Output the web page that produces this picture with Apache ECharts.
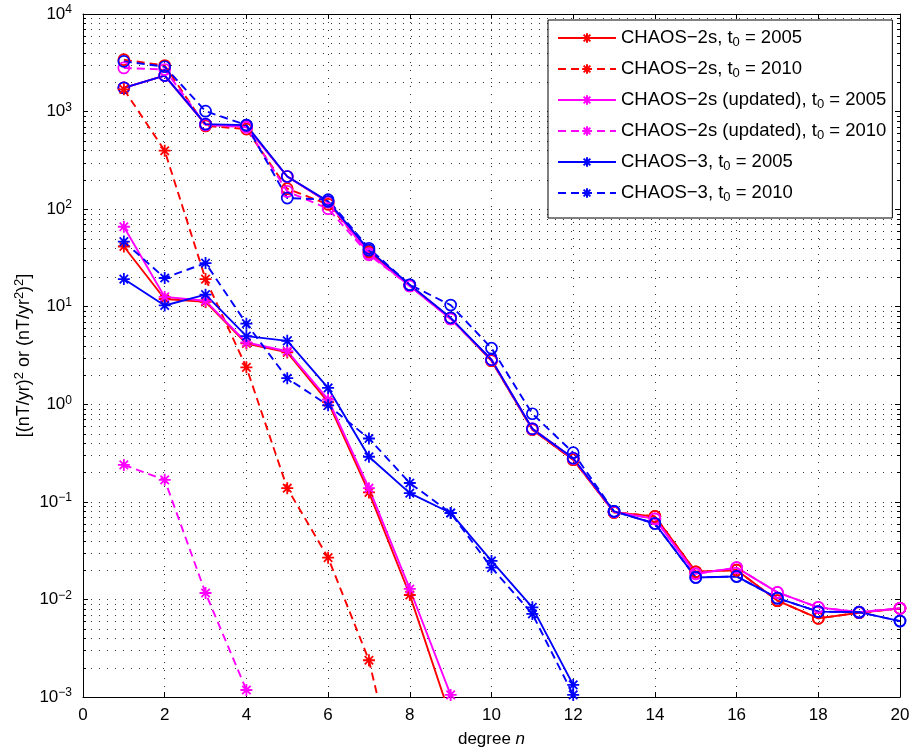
<!DOCTYPE html>
<html><head><meta charset="utf-8">
<script src="https://cdn.jsdelivr.net/npm/echarts@6/dist/echarts.min.js"></script>
<style>html,body{margin:0;padding:0;background:#fff}#c{width:913px;height:753px}</style>
</head><body><div id="c"></div><script>
const degrees = [1,2,3,4,5,6,7,8,9,10,11,12,13,14,15,16,17,18,19,20];
const legendNames = ['CHAOS-2s, t0 = 2005','CHAOS-2s, t0 = 2010','CHAOS-2s (updated), t0 = 2005','CHAOS-2s (updated), t0 = 2010','CHAOS-3, t0 = 2005','CHAOS-3, t0 = 2010'];
// secular acceleration (asterisk markers)
const saRed2005  = [41.4, 12.0, 11.2, 4.2, 3.4, 1.05, 0.125, 0.0111, 0.00062];
const saRed2010  = [1690, 397, 19.2, 2.39, 0.138, 0.0268, 0.00238, 0.00004];
const saPink2005 = [66, 12.6, 11.5, 4.3, 3.5, 1.12, 0.138, 0.0128, 0.00105];
const saPink2010 = [0.239, 0.168, 0.01164, 0.00118];
const saBlue2005 = [19.2, 10.3, 13.3, 5.0, 4.47, 1.47, 0.29, 0.123, 0.0769, 0.0248, 0.0083, 0.00133];
const saBlue2010 = [46.5, 19.7, 28.0, 6.7, 1.85, 0.975, 0.446, 0.156, 0.0769, 0.0212, 0.0071, 0.00105];
// secular variation (circle markers)
const svRed2005  = [1750, 2340, 740, 700, 216, 118, 37, 16.5, 7.6, 2.8, 0.55, 0.27, 0.078, 0.071, 0.0192, 0.0200, 0.0097, 0.0064, 0.0073, 0.0081];
const svRed2010  = [3400, 2960, 713, 661, 162, 112, 36, 16.5, 7.6, 2.8, 0.55, 0.27, 0.078, 0.071, 0.0192, 0.0200, 0.0097, 0.0064, 0.0073, 0.0081];
const svPink2005 = [1750, 2340, 740, 700, 216, 118, 35, 16.3, 7.5, 2.86, 0.56, 0.279, 0.079, 0.067, 0.0183, 0.0212, 0.0118, 0.0083, 0.0074, 0.0081];
const svPink2010 = [2800, 2700, 730, 690, 152, 101, 34, 16.3, 7.5, 2.86, 0.56, 0.279, 0.079, 0.067, 0.0183, 0.0212, 0.0118, 0.0083, 0.0074, 0.0081];
const svBlue2005 = [1750, 2340, 743, 726, 216, 120, 38, 16.8, 7.7, 2.86, 0.56, 0.28, 0.080, 0.060, 0.0168, 0.0172, 0.0103, 0.0075, 0.0074, 0.0060];
const svBlue2010 = [3270, 2880, 1010, 726, 130, 125, 39.7, 16.8, 10.4, 3.76, 0.80, 0.319, 0.080, 0.060, 0.0168, 0.0172, 0.0103, 0.0075, 0.0074, 0.0060];
// minor log grid positions (mantissas within each decade)
const minorMantissas = [2,3,4,5,6,7,8,9];
const decadeExponents = [-3,-2,-1,0,1,2,3];

const RED = '#ff0000', PINK = '#ff00ff', BLUE = '#0000ff';
const FONT = '"Liberation Sans", Arial, Helvetica, sans-serif';
const STAR = 'path://M5,0L5,10M0,5L10,5M1.5,1.5L8.5,8.5M1.5,8.5L8.5,1.5';
const DASH = [8, 5];
const GRIDCOL = '#333', GRIDDASH = [1, 7];

function pts(arr){ return arr.map((v,i)=>[degrees[i], v]); }
function sa(name, arr, color, dashed){
  return {name, type:'line', data: pts(arr), symbol: STAR, symbolSize: 12, clip: true,
    lineStyle:{color, width:1.9, type: dashed ? DASH : 'solid'},
    itemStyle:{color, borderColor: color, borderWidth: 1.8}, emphasis:{disabled:true}, z: 3};
}
function sv(name, arr, color, dashed){
  return {name, type:'line', data: pts(arr), symbol: 'circle', symbolSize: 11, clip: true,
    lineStyle:{color, width:1.9, type: dashed ? DASH : 'solid'},
    itemStyle:{color: 'rgba(0,0,0,0)', borderColor: color, borderWidth: 1.7}, emphasis:{disabled:true}, z: 3};
}
const minorVals = [];
decadeExponents.forEach(e => minorMantissas.forEach(m => minorVals.push([0, +(m * Math.pow(10, e)).toPrecision(3)])));

const supExp = v => { const e = Math.round(Math.log10(v)); return '{b|10}{s|' + String(e).replace('-', '\u2212') + '}'; };
const gridLine = {show:true, lineStyle:{color: GRIDCOL, width:1, type: GRIDDASH}};

const chart = echarts.init(document.getElementById('c'), null, {renderer:'canvas'});
chart.setOption({
  animation: false,
  backgroundColor: '#fff',
  grid: {left: 83, right: 13, top: 14, bottom: 50, containLabel: false},
  legend: {
    data: legendNames, orient: 'vertical', left: 548, top: 20,
    backgroundColor: '#fff', borderColor: '#000', borderWidth: 1,
    padding: [7, 6, 14, 9], itemWidth: 58, itemHeight: 12, itemGap: 9,
    selectedMode: false,
    formatter: n => n.replace('t0', 't{sub|0}').replace('-', '\u2212'),
    textStyle: {fontFamily: FONT, fontSize: 18.5, color: '#000', lineHeight: 22,
      rich: {sub: {fontFamily: FONT, fontSize: 13, lineHeight: 4, verticalAlign: 'bottom'}}}
  },
  xAxis: [{
    type: 'value', min: 0, max: 20, interval: 2,
    name: 'degree {i|n}', nameLocation: 'middle', nameGap: 34,
    nameTextStyle: {fontFamily: FONT, fontSize: 17, color: '#000', rich: {i: {fontFamily: FONT, fontSize: 17, fontStyle: 'italic'}}},
    axisLine: {show: true, onZero: false, lineStyle: {color: '#000', width: 1}},
    axisTick: {show: true, inside: true, length: 5, lineStyle: {color: '#000'}},
    axisLabel: {fontFamily: FONT, fontSize: 17, color: '#000', margin: 10},
    splitLine: gridLine
  }, {
    type: 'value', min: 0, max: 20, interval: 2, position: 'top',
    axisLine: {show: true, onZero: false, lineStyle: {color: '#000', width: 1}},
    axisTick: {show: true, inside: true, length: 5, lineStyle: {color: '#000'}},
    axisLabel: {show: false}, splitLine: {show: false}
  }],
  yAxis: [{
    type: 'log', logBase: 10, min: 0.001, max: 10000, splitNumber: 7,
    name: '[(nT/yr){s|2} or (nT/yr{s|2}){s|2}]', nameLocation: 'middle', nameGap: 48, nameRotate: 90,
    nameMoveOverlap: false,
    nameTextStyle: {fontFamily: FONT, fontSize: 18, color: '#000', lineHeight: 22,
      rich: {s: {fontFamily: FONT, fontSize: 13, lineHeight: 6, verticalAlign: 'top'}}},
    axisLine: {show: true, onZero: false, lineStyle: {color: '#000', width: 1}},
    axisTick: {show: true, inside: true, length: 5, lineStyle: {color: '#000'}},
    axisLabel: {formatter: supExp, margin: 11,
      rich: {b: {fontFamily: FONT, fontSize: 17, color: '#000', lineHeight: 20},
             s: {fontFamily: FONT, fontSize: 12, color: '#000', lineHeight: 6, verticalAlign: 'top'}}},
    splitLine: gridLine
  }, {
    type: 'log', logBase: 10, min: 0.001, max: 10000, splitNumber: 7, position: 'right',
    axisLine: {show: true, onZero: false, lineStyle: {color: '#000', width: 1}},
    axisTick: {show: true, inside: true, length: 5, lineStyle: {color: '#000'}},
    axisLabel: {show: false}, splitLine: {show: false}
  }],
  series: [
    {
      type: 'custom', name: 'minorGrid', data: minorVals, z: 1, silent: true, clip: true,
      renderItem: (params, api) => {
        const cs = params.coordSys;
        const y = Math.round(api.coord([0, api.value(1)])[1]) + 0.5;
        return {type: 'group', children: [
          {type: 'line', shape: {x1: cs.x, y1: y, x2: cs.x + cs.width, y2: y},
           style: {stroke: GRIDCOL, lineWidth: 1, lineDash: GRIDDASH}},
          {type: 'line', shape: {x1: cs.x, y1: y, x2: cs.x + 3, y2: y}, style: {stroke: '#000', lineWidth: 1}},
          {type: 'line', shape: {x1: cs.x + cs.width - 3, y1: y, x2: cs.x + cs.width, y2: y}, style: {stroke: '#000', lineWidth: 1}}
        ]};
      }
    },
    sv('SV1', svRed2005, RED, false),
    sv('SV2', svRed2010, RED, true),
    sv('SV3', svPink2005, PINK, false),
    sv('SV4', svPink2010, PINK, true),
    sv('SV5', svBlue2005, BLUE, false),
    sv('SV6', svBlue2010, BLUE, true),
    sa(legendNames[0], saRed2005, RED, false),
    sa(legendNames[1], saRed2010, RED, true),
    sa(legendNames[2], saPink2005, PINK, false),
    sa(legendNames[3], saPink2010, PINK, true),
    sa(legendNames[4], saBlue2005, BLUE, false),
    sa(legendNames[5], saBlue2010, BLUE, true)
  ]
});
</script></body></html>
